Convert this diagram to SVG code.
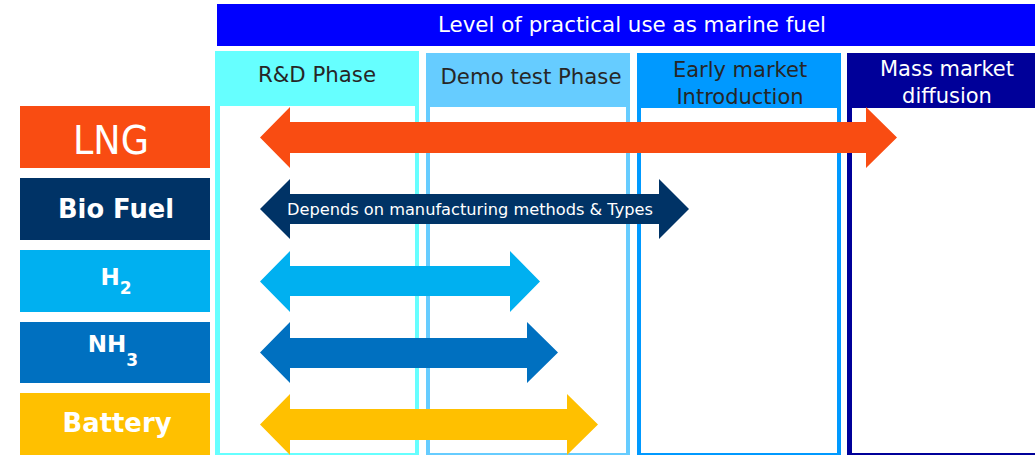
<svg xmlns="http://www.w3.org/2000/svg" width="1035" height="455" viewBox="0 0 1035 455">
<style>
  text { font-family: "DejaVu Sans", Verdana, sans-serif; }
  .hdr { font-size: 21px; text-anchor: middle; fill: #262626; }
  .hdrw { font-size: 21px; text-anchor: middle; fill: #ffffff; }
  .lbl { font-size: 26px; font-weight: bold; text-anchor: middle; fill: #ffffff; }
  .chem { font-size: 23px; }
  .sub { font-size: 17px; }
  .inner { fill: #ffffff; }
</style>
<rect width="1035" height="455" fill="#ffffff"/>

<g id="banner">
  <rect x="217" y="4" width="818" height="42" fill="#0000FF"/>
  <text x="632" y="32" class="hdrw" textLength="388" lengthAdjust="spacingAndGlyphs">Level of practical use as marine fuel</text>
</g>

<g id="phase-rd">
  <rect x="215" y="51" width="204" height="404" fill="#66FFFF"/>
  <rect x="220" y="106" width="195" height="347" class="inner"/>
  <text x="317" y="82" class="hdr" textLength="118" lengthAdjust="spacingAndGlyphs">R&amp;D Phase</text>
</g>
<g id="phase-demo">
  <rect x="426" y="53" width="204" height="402" fill="#66CCFF"/>
  <rect x="430" y="107" width="196" height="346" class="inner"/>
  <text x="531" y="84" class="hdr" textLength="181" lengthAdjust="spacingAndGlyphs">Demo test Phase</text>
</g>
<g id="phase-early">
  <rect x="637" y="53" width="204" height="402" fill="#0099FF"/>
  <rect x="641" y="108" width="196" height="345" class="inner"/>
  <text x="740" y="77" class="hdr">Early market</text>
  <text x="740" y="104" class="hdr">Introduction</text>
</g>
<g id="phase-mass">
  <rect x="847" y="53" width="200" height="402" fill="#000099"/>
  <rect x="852" y="108" width="190" height="345" class="inner"/>
  <text x="947" y="76" class="hdrw">Mass market</text>
  <text x="947" y="103" class="hdrw">diffusion</text>
</g>

<g id="fuel-lng">
  <rect x="20" y="106" width="190" height="62" fill="#F94C12"/>
  <text x="111" y="154" font-size="39" text-anchor="middle" fill="#ffffff" textLength="76" lengthAdjust="spacingAndGlyphs">LNG</text>
</g>
<g id="fuel-bio">
  <rect x="20" y="178" width="190" height="62" fill="#003366"/>
  <text x="116" y="218" class="lbl" textLength="116" lengthAdjust="spacingAndGlyphs">Bio Fuel</text>
</g>
<g id="fuel-h2">
  <rect x="20" y="250" width="190" height="62" fill="#00B0F0"/>
  <text x="116" y="285" class="lbl chem">H<tspan class="sub" dy="9">2</tspan></text>
</g>
<g id="fuel-nh3">
  <rect x="20" y="322" width="190" height="61" fill="#0070C0"/>
  <text x="113" y="352" class="lbl chem">NH<tspan class="sub" dy="14">3</tspan></text>
</g>
<g id="fuel-battery">
  <rect x="20" y="393" width="190" height="62" fill="#FFC000"/>
  <text x="117" y="432" class="lbl" textLength="109" lengthAdjust="spacingAndGlyphs">Battery</text>
</g>

<g id="connectors">
  <polygon fill="#F94C12" points="260,137.5 290,107 290,122 866,122 866,107 897,137.5 866,168 866,153 290,153 290,168"/>
  <polygon fill="#003366" points="260,209 290,179 290,194 659,194 659,179 689,209 659,239 659,224 290,224 290,239"/>
  <polygon fill="#00B0F0" points="260,281.5 290,251 290,266 510,266 510,251 540,281.5 510,312 510,296 290,296 290,312"/>
  <polygon fill="#0070C0" points="260,352.5 290,322 290,338 527,338 527,322 558,352.5 527,383 527,368 290,368 290,383"/>
  <polygon fill="#FFC000" points="260,424.5 290,394 290,409 567,409 567,394 598,424.5 567,455 567,440 290,440 290,455"/>
  <text x="287" y="215" font-size="16" fill="#ffffff" textLength="366" lengthAdjust="spacingAndGlyphs">Depends on manufacturing methods &amp; Types</text>
</g>
</svg>
